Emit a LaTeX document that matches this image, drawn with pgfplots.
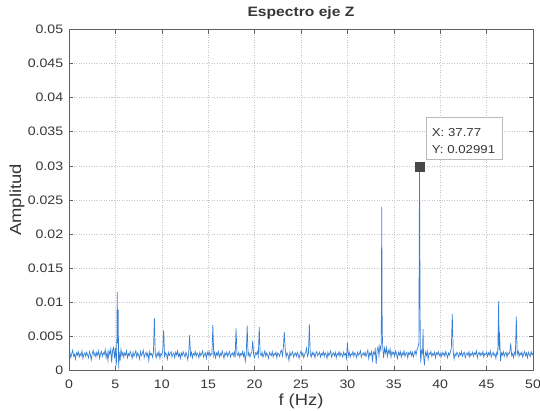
\documentclass[border=0pt]{standalone}
\usepackage{fontspec}
\setmainfont{Liberation Sans}[FakeStretch=1.15]
\usepackage{pgfplots}
\pgfplotsset{compat=1.18}
\definecolor{mblue}{RGB}{55,128,212}
\definecolor{axgray}{RGB}{95,95,95}
\definecolor{txtgray}{RGB}{55,55,55}
\begin{document}
\begin{tikzpicture}
\begin{axis}[
  name=ax,
  at={(0,0)}, anchor=south west,
  scale only axis,
  width=464pt, height=341.4pt,
  xmin=0, xmax=50, ymin=0, ymax=0.05,
  xtick={0,5,...,50},
  ytick={0,0.005,0.01,0.015,0.02,0.025,0.03,0.035,0.04,0.045,0.05},
  yticklabels={0,0.005,0.01,0.015,0.02,0.025,0.03,0.035,0.04,0.045,0.05},
  scaled y ticks=false,
  /pgf/number format/assume math mode=true,
  tick label style={font=\fontsize{12.3}{14}\selectfont, text=txtgray},
  xticklabel style={anchor=base, yshift=-18.3pt},
  yticklabel style={xshift=-2.3pt},
  tick align=inside,
  major tick length=4.5pt,
  tick style={axgray, line width=0.5pt},
  axis line style={axgray, line width=0.6pt},
  grid=major,
  major grid style={gray!45, dash pattern=on 1pt off 1.5pt, line width=0.5pt},
  title={\bfseries Espectro eje Z},
  title style={font=\fontsize{13.6}{16}\selectfont, text=txtgray, at={(axis description cs:0.5,1)}, anchor=base, yshift=6.6pt, inner sep=0pt},
  xlabel={f (Hz)},
  ylabel={Amplitud},
  label style={font=\fontsize{16}{18}\selectfont, text=txtgray},
  xlabel style={at={(axis description cs:0.5,0)}, anchor=base, yshift=-34.9pt, inner sep=0pt},
  ylabel style={at={(axis description cs:-0.112,0.5)}, anchor=center},
]
\addplot[mblue, line width=0.7pt] table[row sep=\\] {
x y\\
0 0.0022\\ 0.1 0.0027\\ 0.2 0.0019\\ 0.3 0.0025\\ 0.4 0.0030\\ 0.5 0.0021\\ 0.6 0.0024\\ 0.7 0.0017\\ 0.8 0.0026\\ 0.9 0.0023\\
1.0 0.0028\\ 1.1 0.0020\\ 1.2 0.0025\\ 1.3 0.0022\\ 1.4 0.0029\\ 1.5 0.0018\\ 1.6 0.0024\\ 1.7 0.0026\\ 1.8 0.0021\\ 1.9 0.0027\\
2.0 0.0023\\ 2.1 0.0019\\ 2.2 0.0028\\ 2.3 0.0024\\ 2.4 0.0016\\ 2.5 0.0025\\ 2.6 0.0030\\ 2.7 0.0022\\ 2.8 0.0026\\ 2.9 0.0020\\
3.0 0.0027\\ 3.1 0.0023\\ 3.2 0.0029\\ 3.3 0.0018\\ 3.4 0.0025\\ 3.5 0.0028\\ 3.6 0.0021\\ 3.7 0.0026\\ 3.8 0.0024\\ 3.9 0.0031\\
4.0 0.0019\\ 4.1 0.0027\\ 4.2 0.0015\\ 4.3 0.0029\\ 4.4 0.0024\\ 4.5 0.0032\\ 4.6 0.0012\\ 4.7 0.0030\\ 4.8 0.0034\\ 4.9 0.0018\\
5.0 0.0033\\ 5.1 0.0008\\ 5.15 0.0036\\ 5.2 0.0115\\ 5.25 0.0040\\ 5.3 0.0089\\ 5.35 0.0003\\ 5.4 0.0028\\ 5.5 0.0014\\ 5.6 0.0031\\ 5.7 0.0022\\ 5.8 0.0027\\ 5.9 0.0020\\
6.0 0.0026\\ 6.1 0.0023\\ 6.2 0.0029\\ 6.3 0.0019\\ 6.4 0.0025\\ 6.5 0.0022\\ 6.6 0.0028\\ 6.7 0.0024\\ 6.8 0.0018\\ 6.9 0.0027\\
7.0 0.0021\\ 7.1 0.0025\\ 7.2 0.0029\\ 7.3 0.0020\\ 7.4 0.0026\\ 7.5 0.0023\\ 7.6 0.0017\\ 7.7 0.0028\\ 7.8 0.0022\\ 7.9 0.0025\\
8.0 0.0030\\ 8.1 0.0019\\ 8.2 0.0024\\ 8.3 0.0027\\ 8.4 0.0021\\ 8.5 0.0026\\ 8.6 0.0015\\ 8.7 0.0028\\ 8.8 0.0023\\ 8.9 0.0025\\
9.0 0.0020\\ 9.1 0.0027\\ 9.2 0.0077\\ 9.3 0.0024\\ 9.4 0.0019\\ 9.5 0.0026\\ 9.6 0.0022\\ 9.7 0.0028\\ 9.8 0.0018\\ 9.9 0.0025\\
10.0 0.0023\\ 10.1 0.0029\\ 10.2 0.0059\\ 10.3 0.0021\\ 10.4 0.0026\\ 10.5 0.0024\\ 10.6 0.0017\\ 10.7 0.0027\\ 10.8 0.0022\\ 10.9 0.0025\\
11.0 0.0028\\ 11.1 0.0020\\ 11.2 0.0024\\ 11.3 0.0026\\ 11.4 0.0019\\ 11.5 0.0027\\ 11.6 0.0023\\ 11.7 0.0029\\ 11.8 0.0021\\ 11.9 0.0025\\
12.0 0.0018\\ 12.1 0.0026\\ 12.2 0.0022\\ 12.3 0.0028\\ 12.4 0.0024\\ 12.5 0.0020\\ 12.6 0.0027\\ 12.7 0.0023\\ 12.8 0.0016\\ 12.9 0.0026\\
13.0 0.0052\\ 13.1 0.0022\\ 13.2 0.0027\\ 13.3 0.0019\\ 13.4 0.0025\\ 13.5 0.0023\\ 13.6 0.0028\\ 13.7 0.0021\\ 13.8 0.0026\\ 13.9 0.0024\\
14.0 0.0019\\ 14.1 0.0027\\ 14.2 0.0022\\ 14.3 0.0025\\ 14.4 0.0029\\ 14.5 0.0020\\ 14.6 0.0024\\ 14.7 0.0026\\ 14.8 0.0018\\ 14.9 0.0027\\
15.0 0.0023\\ 15.1 0.0028\\ 15.2 0.0021\\ 15.3 0.0025\\ 15.4 0.0024\\ 15.5 0.0067\\ 15.6 0.0022\\ 15.7 0.0027\\ 15.8 0.0019\\ 15.9 0.0026\\
16.0 0.0023\\ 16.1 0.0028\\ 16.2 0.0020\\ 16.3 0.0025\\ 16.4 0.0022\\ 16.5 0.0029\\ 16.6 0.0024\\ 16.7 0.0018\\ 16.8 0.0026\\ 16.9 0.0023\\
17.0 0.0027\\ 17.1 0.0021\\ 17.2 0.0025\\ 17.3 0.0028\\ 17.4 0.0020\\ 17.5 0.0024\\ 17.6 0.0026\\ 17.7 0.0022\\ 17.8 0.0027\\ 17.9 0.0019\\
18.0 0.0062\\ 18.1 0.0024\\ 18.2 0.0022\\ 18.3 0.0027\\ 18.4 0.0020\\ 18.5 0.0025\\ 18.6 0.0023\\ 18.7 0.0028\\ 18.8 0.0021\\ 18.9 0.0026\\
19.0 0.0014\\ 19.1 0.0024\\ 19.2 0.0066\\ 19.3 0.0022\\ 19.4 0.0026\\ 19.5 0.0020\\ 19.6 0.0025\\ 19.7 0.0027\\ 19.8 0.0044\\ 19.9 0.0023\\
20.0 0.0019\\ 20.1 0.0026\\ 20.2 0.0024\\ 20.3 0.0028\\ 20.4 0.0021\\ 20.5 0.0064\\ 20.6 0.0025\\ 20.7 0.0022\\ 20.8 0.0027\\ 20.9 0.0020\\
21.0 0.0024\\ 21.1 0.0029\\ 21.2 0.0021\\ 21.3 0.0026\\ 21.4 0.0023\\ 21.5 0.0018\\ 21.6 0.0027\\ 21.7 0.0024\\ 21.8 0.0022\\ 21.9 0.0028\\
22.0 0.0020\\ 22.1 0.0025\\ 22.2 0.0023\\ 22.3 0.0027\\ 22.4 0.0019\\ 22.5 0.0026\\ 22.6 0.0024\\ 22.7 0.0021\\ 22.8 0.0028\\ 22.9 0.0030\\
23.0 0.0022\\ 23.1 0.0034\\ 23.2 0.0057\\ 23.3 0.0031\\ 23.4 0.0020\\ 23.5 0.0026\\ 23.6 0.0023\\ 23.7 0.0015\\ 23.8 0.0027\\ 23.9 0.0022\\
24.0 0.0025\\ 24.1 0.0028\\ 24.2 0.0020\\ 24.3 0.0024\\ 24.4 0.0026\\ 24.5 0.0021\\ 24.6 0.0027\\ 24.7 0.0023\\ 24.8 0.0018\\ 24.9 0.0025\\
25.0 0.0029\\ 25.1 0.0022\\ 25.2 0.0026\\ 25.3 0.0019\\ 25.4 0.0024\\ 25.5 0.0027\\ 25.6 0.0033\\ 25.7 0.0021\\ 25.8 0.0025\\ 25.9 0.0068\\
26.0 0.0024\\ 26.1 0.0020\\ 26.2 0.0027\\ 26.3 0.0023\\ 26.4 0.0026\\ 26.5 0.0019\\ 26.6 0.0025\\ 26.7 0.0028\\ 26.8 0.0022\\ 26.9 0.0024\\
27.0 0.0027\\ 27.1 0.0020\\ 27.2 0.0025\\ 27.3 0.0023\\ 27.4 0.0028\\ 27.5 0.0021\\ 27.6 0.0026\\ 27.7 0.0024\\ 27.8 0.0018\\ 27.9 0.0027\\
28.0 0.0022\\ 28.1 0.0025\\ 28.2 0.0029\\ 28.3 0.0020\\ 28.4 0.0024\\ 28.5 0.0026\\ 28.6 0.0022\\ 28.7 0.0027\\ 28.8 0.0019\\ 28.9 0.0025\\
29.0 0.0023\\ 29.1 0.0028\\ 29.2 0.0021\\ 29.3 0.0026\\ 29.4 0.0024\\ 29.5 0.0020\\ 29.6 0.0027\\ 29.7 0.0023\\ 29.8 0.0025\\ 29.9 0.0018\\
30.0 0.0041\\ 30.1 0.0022\\ 30.2 0.0027\\ 30.3 0.0020\\ 30.4 0.0025\\ 30.5 0.0023\\ 30.6 0.0028\\ 30.7 0.0021\\ 30.8 0.0026\\ 30.9 0.0024\\
31.0 0.0019\\ 31.1 0.0027\\ 31.2 0.0023\\ 31.3 0.0025\\ 31.4 0.0029\\ 31.5 0.0020\\ 31.6 0.0024\\ 31.7 0.0026\\ 31.8 0.0022\\ 31.9 0.0027\\
32.0 0.0021\\ 32.1 0.0025\\ 32.2 0.0030\\ 32.3 0.0018\\ 32.4 0.0026\\ 32.5 0.0023\\ 32.6 0.0028\\ 32.7 0.0015\\ 32.8 0.0027\\ 32.9 0.0024\\
33.0 0.0031\\ 33.1 0.0010\\ 33.2 0.0029\\ 33.3 0.0035\\ 33.4 0.0022\\ 33.5 0.0036\\ 33.6 0.0030\\ 33.65 0.0041\\ 33.7 0.0240\\ 33.75 0.0060\\ 33.8 0.0037\\ 33.9 0.0019\\
34.0 0.0033\\ 34.1 0.0026\\ 34.2 0.0034\\ 34.3 0.0021\\ 34.4 0.0030\\ 34.5 0.0025\\ 34.6 0.0032\\ 34.7 0.0020\\ 34.8 0.0028\\ 34.9 0.0024\\
35.0 0.0027\\ 35.1 0.0021\\ 35.2 0.0029\\ 35.3 0.0024\\ 35.4 0.0018\\ 35.5 0.0027\\ 35.6 0.0023\\ 35.7 0.0028\\ 35.8 0.0020\\ 35.9 0.0026\\
36.0 0.0023\\ 36.1 0.0029\\ 36.2 0.0021\\ 36.3 0.0025\\ 36.4 0.0027\\ 36.5 0.0019\\ 36.6 0.0026\\ 36.7 0.0024\\ 36.8 0.0028\\ 36.9 0.0022\\
37.0 0.0027\\ 37.1 0.0020\\ 37.2 0.0025\\ 37.3 0.0029\\ 37.4 0.0023\\ 37.5 0.0031\\ 37.6 0.0034\\ 37.7 0.0040\\ 37.77 0.02991\\ 37.85 0.0038\\ 37.9 0.0012\\ 38.0 0.0030\\ 38.1 0.0026\\ 38.15 0.0061\\ 38.2 0.0024\\ 38.3 0.0008\\ 38.4 0.0027\\
38.5 0.0022\\ 38.6 0.0029\\ 38.7 0.0017\\ 38.8 0.0026\\ 38.9 0.0024\\
39.0 0.0028\\ 39.1 0.0021\\ 39.2 0.0025\\ 39.3 0.0023\\ 39.4 0.0027\\ 39.5 0.0019\\ 39.6 0.0026\\ 39.7 0.0024\\ 39.8 0.0028\\ 39.9 0.0022\\
40.0 0.0025\\ 40.1 0.0020\\ 40.2 0.0027\\ 40.3 0.0023\\ 40.4 0.0026\\ 40.5 0.0021\\ 40.6 0.0028\\ 40.7 0.0024\\ 40.8 0.0019\\ 40.9 0.0026\\
41.0 0.0023\\ 41.1 0.0027\\ 41.2 0.0033\\ 41.3 0.0083\\ 41.4 0.0028\\ 41.5 0.0017\\ 41.6 0.0025\\ 41.7 0.0022\\ 41.8 0.0027\\ 41.9 0.0024\\
42.0 0.0020\\ 42.1 0.0026\\ 42.2 0.0023\\ 42.3 0.0028\\ 42.4 0.0021\\ 42.5 0.0025\\ 42.6 0.0027\\ 42.7 0.0019\\ 42.8 0.0024\\ 42.9 0.0026\\
43.0 0.0022\\ 43.1 0.0028\\ 43.2 0.0020\\ 43.3 0.0025\\ 43.4 0.0023\\ 43.5 0.0027\\ 43.6 0.0021\\ 43.7 0.0026\\ 43.8 0.0024\\ 43.9 0.0029\\
44.0 0.0019\\ 44.1 0.0025\\ 44.2 0.0027\\ 44.3 0.0022\\ 44.4 0.0026\\ 44.5 0.0023\\ 44.6 0.0028\\ 44.7 0.0020\\ 44.8 0.0025\\ 44.9 0.0024\\
45.0 0.0027\\ 45.1 0.0021\\ 45.2 0.0026\\ 45.3 0.0023\\ 45.4 0.0029\\ 45.5 0.0020\\ 45.6 0.0024\\ 45.7 0.0027\\ 45.8 0.0022\\ 45.9 0.0025\\
46.0 0.0018\\ 46.1 0.0027\\ 46.2 0.0024\\ 46.3 0.0102\\ 46.35 0.0030\\ 46.4 0.0057\\ 46.5 0.0014\\ 46.6 0.0026\\ 46.7 0.0023\\ 46.8 0.0028\\ 46.9 0.0021\\
47.0 0.0025\\ 47.1 0.0027\\ 47.2 0.0020\\ 47.3 0.0026\\ 47.4 0.0024\\ 47.5 0.0028\\ 47.6 0.0040\\ 47.7 0.0022\\ 47.8 0.0025\\ 47.9 0.0019\\
48.0 0.0027\\ 48.1 0.0023\\ 48.2 0.0079\\ 48.3 0.0024\\ 48.4 0.0029\\ 48.5 0.0021\\ 48.6 0.0026\\ 48.7 0.0023\\ 48.8 0.0027\\ 48.9 0.0020\\
49.0 0.0025\\ 49.1 0.0028\\ 49.2 0.0022\\ 49.3 0.0026\\ 49.4 0.0019\\ 49.5 0.0027\\ 49.6 0.0024\\ 49.7 0.0021\\ 49.8 0.0028\\ 49.9 0.0023\\ 50.0 0.0026\\
};
\addplot[only marks, mark=square*, mark size=4.6pt, mark options={fill=black!72, draw=black!72}] coordinates {(37.77,0.02991)};
\path (axis cs:38.47,0.03711)
  node[anchor=north west, draw=gray!55, fill=white, minimum width=75.7pt, minimum height=42pt, inner sep=0pt] {}
  ++(5.7pt,-19.4pt) node[anchor=base west, inner sep=0pt, font=\fontsize{11.5}{14}\selectfont, text=txtgray] {X: 37.77}
  ++(0pt,-16.3pt) node[anchor=base west, inner sep=0pt, font=\fontsize{11.5}{14}\selectfont, text=txtgray] {Y: 0.02991};
\end{axis}
\pgfresetboundingbox
\path[use as bounding box] (ax.south west) ++(-69pt,-40.3pt) rectangle ++(540pt,411pt);
\end{tikzpicture}
\end{document}
